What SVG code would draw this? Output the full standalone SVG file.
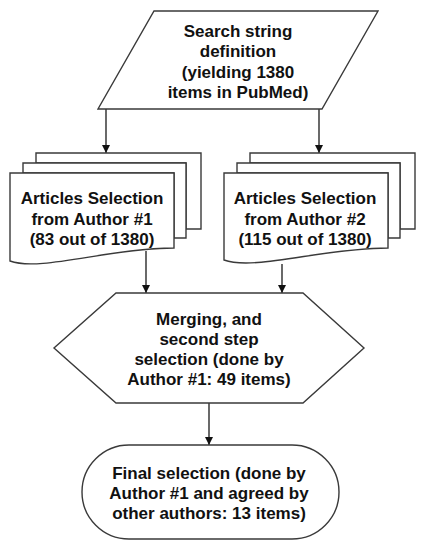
<svg xmlns="http://www.w3.org/2000/svg" width="423" height="550" viewBox="0 0 423 550">
<style>
.s{fill:#fff;stroke:#3a3a3a;stroke-width:1.4}
.t{font-family:"Liberation Sans",Arial,sans-serif;font-weight:bold;font-size:17px;fill:#111;text-anchor:middle}
.c{stroke:#2a2a2a;stroke-width:1.4;fill:none}
</style>
<defs>
<marker id="ah" viewBox="0 0 10 10" refX="10" refY="5" markerWidth="8" markerHeight="8" markerUnits="userSpaceOnUse" orient="auto">
<path d="M0,0 L10,5 L0,10 z" fill="#111"/>
</marker>
</defs>
<rect width="423" height="550" fill="#fff"/>
<g id="connectors">
<line class="c" x1="106" y1="109" x2="106" y2="153" marker-end="url(#ah)"/>
<line class="c" x1="319" y1="109" x2="319" y2="153" marker-end="url(#ah)"/>
<line class="c" x1="146" y1="251" x2="146" y2="293" marker-end="url(#ah)"/>
<line class="c" x1="282" y1="264" x2="282" y2="293" marker-end="url(#ah)"/>
<line class="c" x1="209" y1="403" x2="209" y2="445" marker-end="url(#ah)"/>
</g>
<g id="search">
<polygon class="s" points="154,11 378,11 322,109 98,109"/>
<text class="t" x="238" y="37">Search string</text>
<text class="t" x="238" y="57.3">definition</text>
<text class="t" x="238" y="77.7">(yielding 1380</text>
<text class="t" x="238" y="98">items in PubMed)</text>
</g>
<g id="author1">
<path class="s" d="M36,153 H201 V229 H186 V163 H36 Z"/>
<path class="s" d="M23,163 H186 V238 H174 V173 H23 Z"/>
<path class="s" d="M10,173 H174 V248 C110,248 40,272 10,261 Z"/>
<text class="t" x="92" y="204">Articles Selection</text>
<text class="t" x="92" y="224.5">from Author #1</text>
<text class="t" x="92" y="245">(83 out of 1380)</text>
</g>
<g id="author2">
<path class="s" d="M250,153 H415 V229 H400 V163 H250 Z"/>
<path class="s" d="M237,163 H400 V238 H388 V173 H237 Z"/>
<path class="s" d="M224,173 H388 V248 C324,248 254,271 224,260 Z"/>
<text class="t" x="305" y="204">Articles Selection</text>
<text class="t" x="305" y="224.5">from Author #2</text>
<text class="t" x="305" y="245">(115 out of 1380)</text>
</g>
<g id="merge">
<polygon class="s" points="116,293 303,293 364,348 303,403 116,403 54,348"/>
<text class="t" x="209" y="325">Merging, and</text>
<text class="t" x="209" y="345">second step</text>
<text class="t" x="209" y="365">selection (done by</text>
<text class="t" x="209" y="385">Author #1: 49 items)</text>
</g>
<g id="final">
<rect class="s" x="82" y="445" width="257" height="94" rx="47" ry="47"/>
<text class="t" x="209" y="479">Final selection (done by</text>
<text class="t" x="209" y="499">Author #1 and agreed by</text>
<text class="t" x="209" y="519">other authors: 13 items)</text>
</g>
</svg>
